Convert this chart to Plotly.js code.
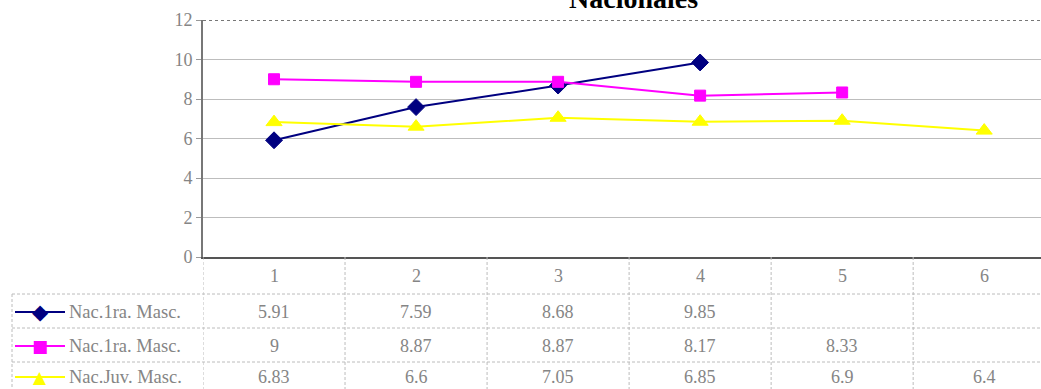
<!DOCTYPE html>
<html>
<head>
<meta charset="utf-8">
<script src="https://cdn.plot.ly/plotly-3.0.1.min.js"></script>
<style>
  html, body { margin: 0; padding: 0; background: #fff; }
  #chart { width: 1041px; height: 389px; }
</style>
</head>
<body>
<div id="chart"></div>
<script>
// Categories and series
const categories = [1, 2, 3, 4, 5, 6];
const seriesNames = ["Nac.1ra. Masc.", "Nac.1ra. Masc.", "Nac.Juv. Masc."];
const serieA = [5.91, 7.59, 8.68, 9.85, null, null];
const serieB = [9, 8.87, 8.87, 8.17, 8.33, null];
const serieC = [6.83, 6.6, 7.05, 6.85, 6.9, 6.4];
const yTicks = [0, 2, 4, 6, 8, 10, 12];
const chartTitle = "Nacionales";

const series = [serieA, serieB, serieC];
const colors = ["#000080", "#FF00FF", "#FFFF00"];
const symbols = ["diamond", "square", "triangle-up"];
const keyGlyphs = ["\u25C6", "\u25A0", "\u25B2"];
const keyGlyphSizes = [21, 17, 17];
const sizes = [13, 11, 14];

// Geometry of the figure (pixels)
const W = 1041, H = 389;
const M = { l: 203, r: 0, t: 20, b: 132 };
const plotW = W - M.l - M.r;
const plotH = H - M.t - M.b;
const xRange = [0.5, 6.40];
// pixel row -> paper y
const py = (pix) => (H - M.b - pix) / plotH;
// pixel column -> paper x
const px = (pix) => (pix - M.l) / plotW;

// Data table rows (pixel centres) and separators
const rowCenters = [312, 346, 377];
const rowLines = [294, 328, 362];
const catCenter = 276;
const keyX0 = 15, keyX1 = 65, keyMarkX = 40, keyTextX = 68;

const serif = "Liberation Serif, Times New Roman, serif";
const textGray = "#858585";
const tableFont = { family: serif, size: 18, color: textGray };
const keyFont = { family: serif, size: 18.5, color: textGray };
const tableGrid = { color: "#bcbcbc", width: 1, dash: "3px,2px" };

const traces = series.map((s, i) => ({
  type: "scatter",
  mode: "lines+markers",
  x: categories,
  y: s,
  name: seriesNames[i],
  line: { color: colors[i], width: 2 },
  marker: { symbol: symbols[i], size: sizes[i], color: colors[i],
            line: { color: colors[i], width: 1 } },
  connectgaps: false,
  cliponaxis: false,
  hoverinfo: "skip",
  showlegend: false
}));

const shapes = [];
const annotations = [];

// Top border of the plot area
shapes.push({ type: "line", xref: "paper", yref: "y", x0: 0, x1: 1, y0: 12, y1: 12,
              line: { color: "#777", width: 2, dash: "dot" } });

// Table horizontal separators
rowLines.forEach(yp => {
  shapes.push({ type: "line", xref: "paper", yref: "paper",
                x0: px(12), x1: 1, y0: py(yp), y1: py(yp), line: tableGrid });
});
// Table left border
shapes.push({ type: "line", xref: "paper", yref: "paper",
              x0: px(12), x1: px(12), y0: py(rowLines[0]), y1: py(H), line: tableGrid });
// Column separators between categories
for (let k = 0; k < categories.length; k++) {
  const xb = categories[k] - 0.5;
  shapes.push({ type: "line", xref: "x", yref: "paper",
                x0: xb, x1: xb, y0: 0, y1: py(H), line: tableGrid });
}

// Legend keys (line + symbol) and series names
series.forEach((s, i) => {
  const yp = py(rowCenters[i]);
  shapes.push({ type: "line", xref: "paper", yref: "paper",
                x0: px(keyX0), x1: px(keyX1), y0: yp, y1: yp,
                line: { color: colors[i], width: 2 } });
  annotations.push({ xref: "paper", yref: "paper", x: px(keyMarkX), y: yp,
                     xanchor: "center", yanchor: "middle", showarrow: false,
                     text: keyGlyphs[i], borderpad: 0,
                     font: { family: "DejaVu Sans", size: keyGlyphSizes[i], color: colors[i] } });
  annotations.push({ xref: "paper", yref: "paper", x: px(keyTextX), y: yp,
                     xanchor: "left", yanchor: "middle", showarrow: false,
                     text: seriesNames[i], font: keyFont, borderpad: 0 });
});

// Category labels
categories.forEach(c => {
  annotations.push({ xref: "x", yref: "paper", x: c, y: py(catCenter),
                     xanchor: "center", yanchor: "middle", showarrow: false,
                     text: String(c), font: tableFont });
});

// Table values
series.forEach((s, i) => {
  s.forEach((v, k) => {
    if (v === null) return;
    annotations.push({ xref: "x", yref: "paper", x: categories[k], y: py(rowCenters[i]),
                       xanchor: "center", yanchor: "middle", showarrow: false,
                       text: String(v), font: tableFont, borderpad: 0 });
  });
});

// Title, sitting above the plot frame at the top edge
annotations.push({ xref: "paper", yref: "paper", x: px(633), y: py(16),
                   xanchor: "center", yanchor: "bottom", showarrow: false,
                   text: "<b>" + chartTitle + "</b>",
                   font: { family: serif, size: 28, color: "#000" } });

const layout = {
  width: W, height: H,
  margin: M,
  paper_bgcolor: "#fff", plot_bgcolor: "#fff",
  showlegend: false,
  xaxis: {
    range: xRange, showgrid: false, zeroline: false,
    showticklabels: false, ticks: "",
    showline: true, linecolor: "#555", linewidth: 2,
    fixedrange: true
  },
  yaxis: {
    range: [0, 12], tickvals: yTicks, ticktext: yTicks.map(String),
    showgrid: true, gridcolor: "#bdbdbd", gridwidth: 1,
    zeroline: false,
    showline: true, linecolor: "#777", linewidth: 2,
    ticks: "outside", ticklen: 5, tickcolor: "#999",
    tickfont: { family: serif, size: 18, color: textGray },
    fixedrange: true
  },
  shapes: shapes,
  annotations: annotations
};

Plotly.newPlot("chart", traces, layout, { displayModeBar: false, staticPlot: true });
</script>
</body>
</html>
